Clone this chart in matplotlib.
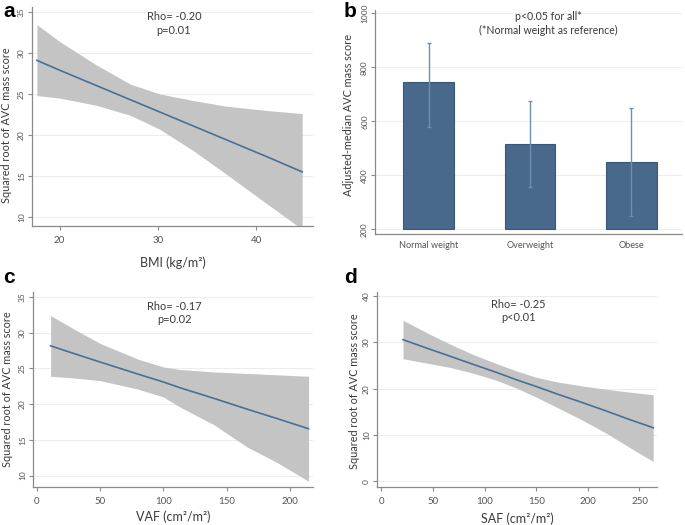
import numpy as np
import matplotlib
matplotlib.use("Agg")
import matplotlib.pyplot as plt

plt.rcParams['font.family'] = ['Lato', 'DejaVu Sans']

# panel a: BMI
bmi_x = [17.7, 20, 23.8, 27.2, 30.2, 33.6, 37, 41, 44.7]
bmi_fit = [29.1, 27.9, 26.0, 24.3, 22.8, 21.1, 19.4, 17.4, 15.5]
bmi_hi = [33.45, 31.4, 28.5, 26.2, 25.0, 24.2, 23.5, 23.0, 22.6]
bmi_lo = [24.8, 24.5, 23.6, 22.4, 20.7, 18.1, 15.2, 11.7, 8.5]

# panel b: weight groups
groups = ["Normal weight", "Overweight", "Obese"]
medians = [745, 515, 449]
ci_low = [578, 357, 250]
ci_high = [890, 677, 650]

# panel c: VAF
vaf_x = [11, 30, 50, 80, 100, 113, 140, 166, 190, 214.5]
vaf_fit = [28.16, 27.05, 25.9, 24.2, 23.1, 22.3, 20.8, 19.3, 17.96, 16.56]
vaf_hi = [32.4, 30.45, 28.5, 26.3, 25.2, 24.85, 24.5, 24.3, 24.1, 23.9]
vaf_lo = [23.9, 23.65, 23.3, 22.1, 21.0, 19.6, 17.1, 14.0, 11.8, 9.2]

# panel d: SAF
saf_x = [21, 45, 67, 90, 112, 131.5, 150, 170, 195, 218, 240, 263.3]
saf_fit = [30.6, 28.7, 27.0, 25.2, 23.5, 21.9, 20.5, 18.9, 17.0, 15.2, 13.4, 11.6]
saf_hi = [34.8, 32.0, 29.6, 27.3, 25.4, 23.8, 22.5, 21.5, 20.6, 19.9, 19.3, 18.7]
saf_lo = [26.5, 25.5, 24.6, 23.3, 21.8, 20.1, 18.2, 16.0, 13.2, 10.4, 7.4, 4.3]

W, H = 685, 525
LINE = "#4a6f96"
BAND = "#c4c4c4"
BAR = "#48688c"
TXT = "#3a3a3a"


def px_axes(fig, left, right, top, bottom):
    return fig.add_axes([left / W, 1 - bottom / H, (right - left) / W, (bottom - top) / H])


def style(ax):
    for s in ["top", "right"]:
        ax.spines[s].set_visible(False)
    for s in ["left", "bottom"]:
        ax.spines[s].set_color("#8a8a8a")
        ax.spines[s].set_linewidth(0.9)
    ax.tick_params(axis="both", colors="#8a8a8a", length=3, width=0.8, labelcolor="#555555")
    ax.tick_params(axis="x", labelsize=7, pad=4)
    ax.tick_params(axis="y", labelsize=6, pad=2)
    for lab in ax.get_yticklabels():
        lab.set_rotation(90)
        lab.set_va("center")
    ax.yaxis.grid(True, color="#ececec", lw=0.7)
    ax.set_axisbelow(True)


def labels(ax, xl, yl, xl_y, yl_x, yl_y):
    if xl:
        ax.set_xlabel(xl, fontsize=9, color=TXT)
        ax.xaxis.set_label_coords(0.5, xl_y)
    ax.set_ylabel(yl, fontsize=7.8, color=TXT)
    ax.yaxis.set_label_coords(yl_x, yl_y)


fig = plt.figure(figsize=(W / 100, H / 100), dpi=100)

# a
ax = px_axes(fig, 32, 313, 7, 226)
ax.fill_between(bmi_x, bmi_lo, bmi_hi, color=BAND, lw=0)
ax.plot(bmi_x, bmi_fit, color=LINE, lw=1.2)
ax.set_xlim(17.2, 45.8)
ax.set_ylim(8.9, 35.6)
ax.set_xticks([20, 30, 40])
ax.set_yticks([10, 15, 20, 25, 30, 35])
style(ax)
labels(ax, "BMI (kg/m²)", "Squared root of AVC mass score", -0.137, -0.07, 0.46)
ax.text(0.505, 0.98, "Rho= -0.20\np=0.01", transform=ax.transAxes, ha="center", va="top",
        fontsize=7.9, color=TXT, linespacing=1.25)

# b
ax = px_axes(fig, 375, 682, 10, 234)
pos = np.arange(len(groups))
ax.bar(pos, np.array(medians) - 200, bottom=200, width=0.5, color=BAR, edgecolor="#3b5878", lw=0.8)
err = [np.array(medians) - np.array(ci_low), np.array(ci_high) - np.array(medians)]
ax.errorbar(pos, medians, yerr=err, fmt="none", ecolor="#6f8fb0", elinewidth=1.0, capsize=1.5)
ax.set_xlim(-0.53, 2.5)
ax.set_ylim(183, 1012)
ax.set_xticks(pos)
ax.set_xticklabels(groups)
ax.set_yticks([200, 400, 600, 800, 1000])
style(ax)
ax.tick_params(axis="x", length=0, pad=5, labelsize=6.6)
labels(ax, None, "Adjusted-median AVC mass score", 0, -0.067, 0.53)
ax.text(0.565, 0.995, "p<0.05 for all*\n(*Normal weight as reference)", transform=ax.transAxes,
        ha="center", va="top", fontsize=7.6, color=TXT, linespacing=1.3)

# c
ax = px_axes(fig, 33, 313, 292, 487)
ax.fill_between(vaf_x, vaf_lo, vaf_hi, color=BAND, lw=0)
ax.plot(vaf_x, vaf_fit, color=LINE, lw=1.2)
ax.set_xlim(-2.9, 218)
ax.set_ylim(8.4, 35.7)
ax.set_xticks([0, 50, 100, 150, 200])
ax.set_yticks([10, 15, 20, 25, 30, 35])
style(ax)
labels(ax, "VAF (cm²/m²)", "Squared root of AVC mass score", -0.12, -0.071, 0.5)
ax.text(0.505, 0.955, "Rho= -0.17\np=0.02", transform=ax.transAxes, ha="center", va="top",
        fontsize=7.9, color=TXT, linespacing=1.25)

# d
ax = px_axes(fig, 377, 657, 292, 487)
ax.fill_between(saf_x, saf_lo, saf_hi, color=BAND, lw=0)
ax.plot(saf_x, saf_fit, color=LINE, lw=1.2)
ax.set_xlim(-4.2, 267)
ax.set_ylim(-1.2, 40.9)
ax.set_xticks([0, 50, 100, 150, 200, 250])
ax.set_yticks([0, 10, 20, 30, 40])
style(ax)
labels(ax, "SAF (cm²/m²)", "Squared root of AVC mass score", -0.13, -0.06, 0.49)
ax.text(0.505, 0.965, "Rho= -0.25\np<0.01", transform=ax.transAxes, ha="center", va="top",
        fontsize=7.9, color=TXT, linespacing=1.25)

for lab, x, y in [("a", 3, 2), ("b", 344, 2), ("c", 3, 268), ("d", 344, 268)]:
    fig.text(x / W, 1 - y / H, lab, ha="left", va="top", fontsize=15, fontweight="bold",
             family="Liberation Sans", color="black")

fig.savefig("out.png", dpi=100, facecolor="white")
